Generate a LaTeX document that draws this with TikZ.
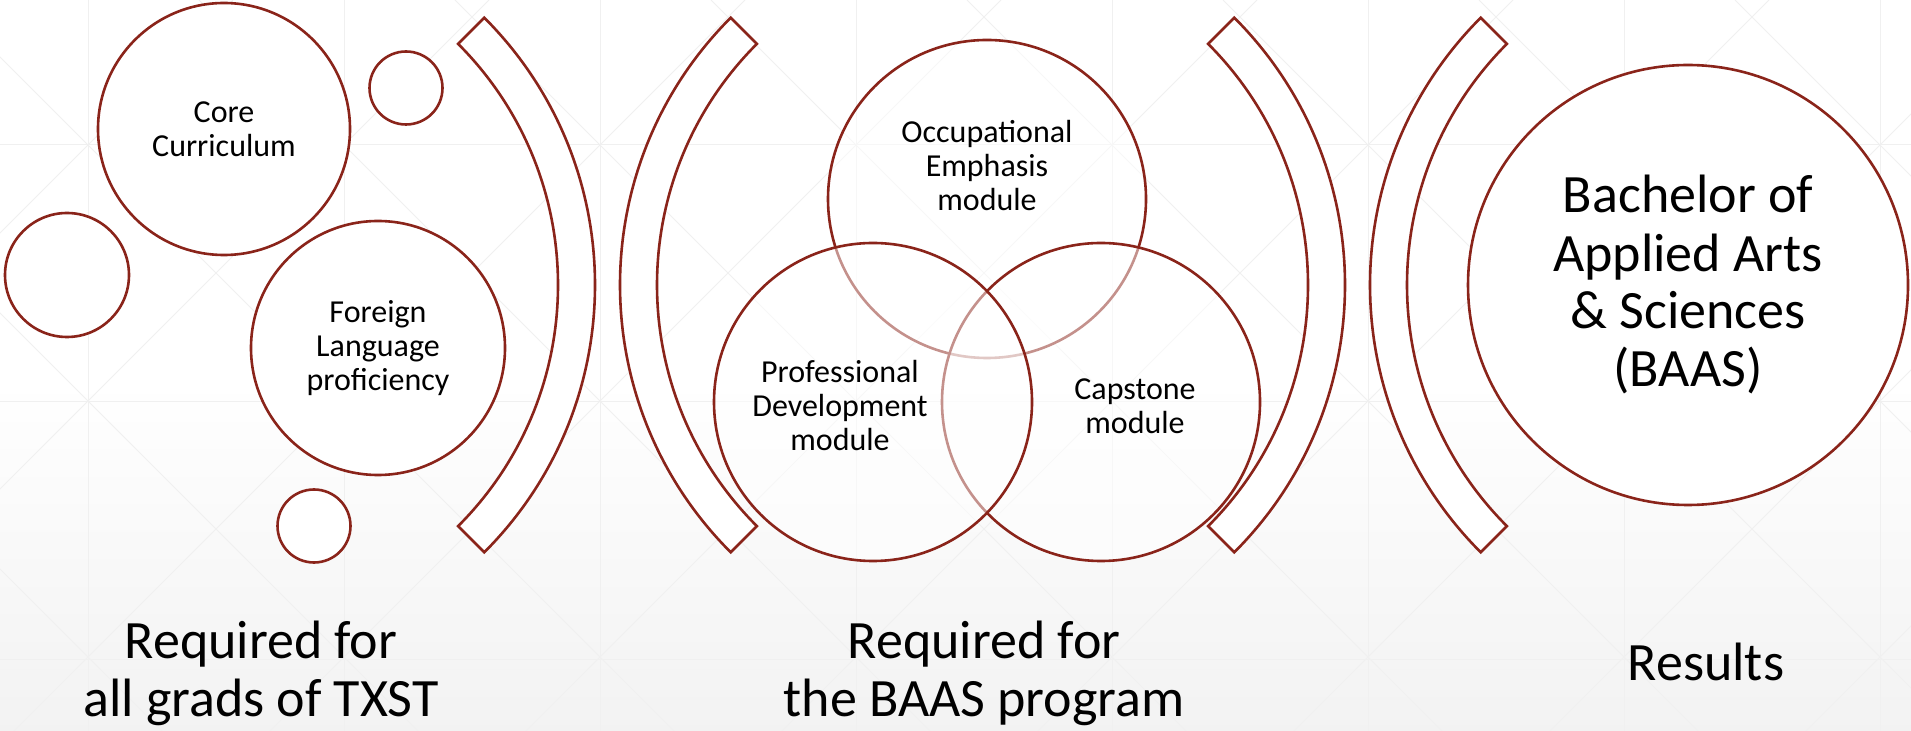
\documentclass[tikz,border=0pt]{standalone}
\usepackage{fontspec}
\setmainfont{Carlito}
\usetikzlibrary{calc}
\definecolor{baasred}{RGB}{138,36,26}

\begin{document}
\begin{tikzpicture}[x=0.5pt, y=-0.5pt,
  ring/.style={draw=baasred, line width=1.3pt, circle, inner sep=0pt, fill=white, align=center, font=\fontsize{16}{17}\selectfont},
  venn/.style={ring, fill opacity=0.5, text opacity=1},
  vtxt/.style={align=center, font=\fontsize{16}{17}\selectfont},
  brk/.style={draw=baasred, line width=1.3pt, fill=white, line join=miter},
  gridln/.style={draw=black!6, line width=0.5pt},
  lbl/.style={align=center, font=\fontsize{27}{29}\selectfont}]
\useasboundingbox (0,0) rectangle (1911,731);
% background: faint grid with diagonals
\fill[white] (0,0) rectangle (1911,731);
\shade[top color=white, bottom color=black!5] (0,380) rectangle (1911,731);
\begin{scope}
\clip (0,0) rectangle (1911,731);
\foreach \gx in {88,344,...,1880} \draw[gridln] (\gx,0) -- (\gx,731);
\foreach \gy in {145,402,659} \draw[gridln] (0,\gy) -- (1911,\gy);
\foreach \c in {-569,-313,...,1735} \draw[gridln] (\c,0) -- ++(731,731);
\foreach \c in {233,489,...,2537} \draw[gridln] (\c,0) -- ++(-731,731);
\end{scope}
% brackets
\foreach \cx/\a in {217/0, 998/180, 967/0, 1748/180}
  \draw[brk] ($(\cx,285)+(\a-45:378)$) arc[start angle=\a-45, delta angle=90, radius=378]
    -- ($(\cx,285)+(\a+45:341)$) arc[start angle=\a+45, delta angle=-90, radius=341] -- cycle;
% left group
\node[ring, minimum size=126pt] (core) at (224,129) {Core\\Curriculum};
\node[ring, minimum size=36.5pt] (dot1) at (406,88) {};
\node[ring, minimum size=62pt] (dot2) at (67,275) {};
\node[ring, minimum size=127pt] (lang) at (378,348) {Foreign\\Language\\proficiency};
\node[ring, minimum size=36.5pt] (dot3) at (314,526) {};
% venn
\node[venn, minimum size=159pt] (occ) at (987,199) {};
\node[venn, minimum size=159pt] (cap) at (1101,402) {};
\node[venn, minimum size=159pt] (prof) at (873,402) {};
\node[vtxt] (occtxt) at (987,166) {Occupational\\Emphasis\\module};
\node[vtxt] (proftxt) at (840,406) {Professional\\Development\\module};
\node[vtxt] (captxt) at (1135,406) {Capstone\\module};
% result
\node[ring, minimum size=220pt, font=\fontsize{27}{29}\selectfont] (baas) at (1688,285) {Bachelor of\\Applied Arts\\\& Sciences\\(BAAS)};
% labels
\node[lbl] (lblall) at (261,673) {Required for\\all grads of TXST};
\node[lbl] (lblbaas) at (984,673) {Required for\\the BAAS program};
\node[lbl] (lblres) at (1706,662) {Results};
\end{tikzpicture}
\end{document}
